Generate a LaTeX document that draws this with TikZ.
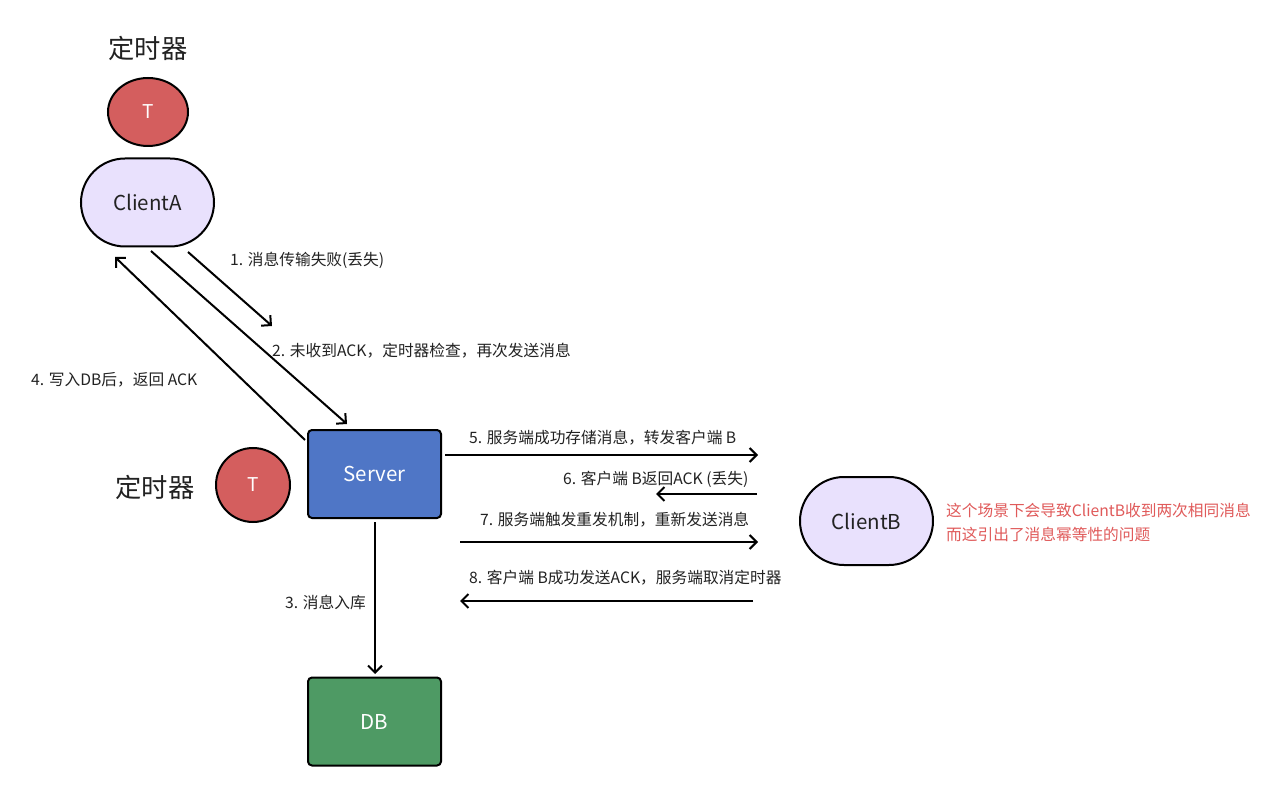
\documentclass[tikz,border=0pt]{standalone}
\usepackage{fontspec}
\setmainfont{Noto Sans CJK SC}
\usetikzlibrary{arrows.meta,shapes.geometric,shapes.misc}
\definecolor{tred}{HTML}{D45E5E}
\definecolor{lav}{HTML}{E9E1FD}
\definecolor{sblue}{HTML}{4F76C6}
\definecolor{dbgreen}{HTML}{4E9A64}
\definecolor{note}{HTML}{E05A5A}
\definecolor{txt}{HTML}{222222}
\begin{document}
\begin{tikzpicture}[x=1pt,y=-1pt,
  timer/.style={ellipse,draw=black,line width=2pt,fill=tred,text=white,font=\fontsize{19}{22}\selectfont,inner sep=0pt},
  client/.style={rounded rectangle,draw=black,line width=2pt,fill=lav,text=txt,minimum width=133pt,minimum height=88pt,font=\fontsize{20.5}{24}\selectfont,inner sep=0pt},
  box/.style={draw=black,line width=2pt,rounded corners=4pt,minimum width=133pt,minimum height=88pt,text=white,font=\fontsize{20.5}{24}\selectfont,inner sep=0pt},
  lbl/.style={anchor=west,text=txt,font=\fontsize{15.7}{18}\selectfont,inner sep=0pt},
  big/.style={text=txt,font=\fontsize{26.3}{30}\selectfont,inner sep=0pt},
  conn/.style={line width=2pt,-{Straight Barb[length=7pt,width=14pt,line width=2pt]}},
  ]
\useasboundingbox (0,0) rectangle (1280,794);
\fill[white] (0,0) rectangle (1280,794);
% top-left timer
\node[big] (t1lbl) at (148,48) {定时器};
\node[timer,minimum width=80pt,minimum height=68pt] (t1) at (148,112) {T};
\node[client] (ca) at (147.5,202.5) {ClientA};
% server area
\node[box,fill=sblue] (srv) at (374.5,474) {Server};
\node[timer,minimum width=74pt,minimum height=74pt] (t2) at (253,485) {T};
\node[big] (t2lbl) at (155,487) {定时器};
\node[box,fill=dbgreen] (db) at (374.5,721.5) {DB};
\node[client] (cb) at (866.5,521) {ClientB};
% coordinates for arrows
\coordinate (a1s) at (188,252); \coordinate (a1e) at (272,326);
\coordinate (a2s) at (151,251); \coordinate (a2e) at (347,424);
\coordinate (a4s) at (305,440); \coordinate (a4e) at (115,257);
\coordinate (a3s) at (375,522); \coordinate (a3e) at (375,674);
\coordinate (a5s) at (445,455); \coordinate (a5e) at (758,455);
\coordinate (a6s) at (757,494); \coordinate (a6e) at (656,494);
\coordinate (a7s) at (460,542); \coordinate (a7e) at (758,542);
\coordinate (a8s) at (753,601); \coordinate (a8e) at (460,601);
\draw[conn] (a1s) -- (a1e);
\draw[conn] (a2s) -- (a2e);
\draw[conn] (a4s) -- (a4e);
\draw[conn] (a3s) -- (a3e);
\draw[conn] (a5s) -- (a5e);
\draw[conn] (a6s) -- (a6e);
\draw[conn] (a7s) -- (a7e);
\draw[conn] (a8s) -- (a8e);
% labels
\node[lbl] (l1) at (230,260) {1. 消息传输失败(丢失)};
\node[lbl] (l2) at (272,351) {2. 未收到ACK，定时器检查，再次发送消息};
\node[lbl] (l4) at (31,380) {4. 写入DB后，返回 ACK};
\node[lbl,anchor=east] (l3) at (366,602) {3. 消息入库};
\node[lbl] (l5) at (469,438) {5. 服务端成功存储消息，转发客户端 B};
\node[lbl] (l6) at (563,479) {6. 客户端 B返回ACK (丢失)};
\node[lbl] (l7) at (480,520) {7. 服务端触发重发机制，重新发送消息};
\node[lbl] (l8) at (469,578) {8. 客户端 B成功发送ACK，服务端取消定时器};
\node[lbl,text=note] (n1) at (946,510) { 这个场景下会导致ClientB收到两次相同消息};
\node[lbl,text=note] (n2) at (946,534) {而这引出了消息幂等性的问题};
\end{tikzpicture}
\end{document}
